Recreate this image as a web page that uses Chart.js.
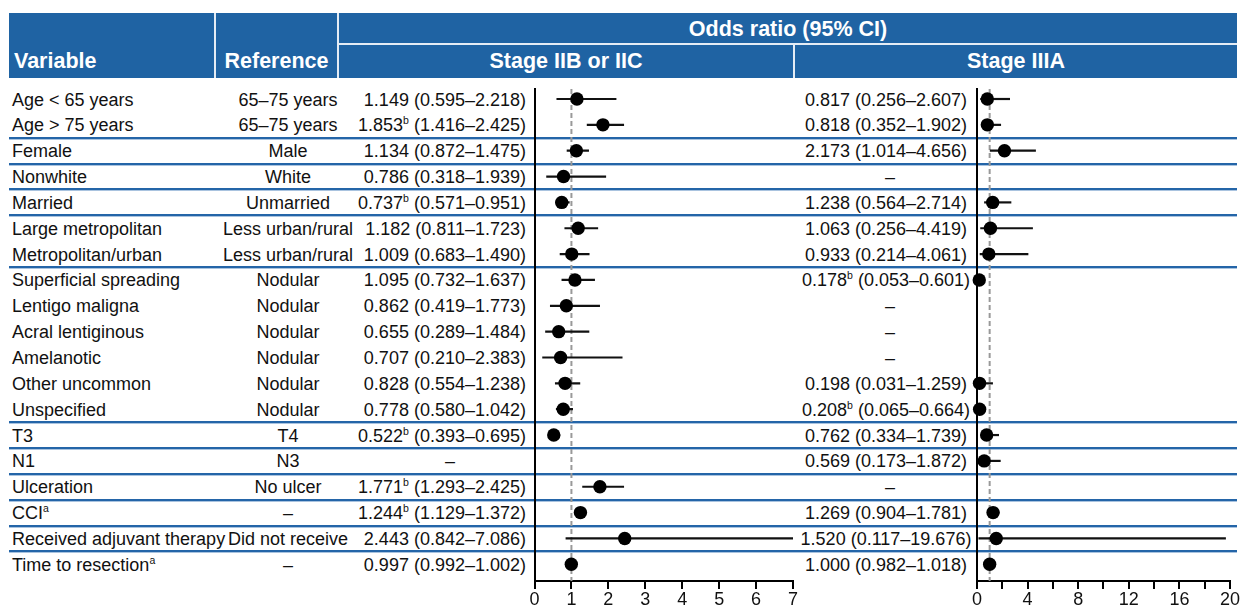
<!DOCTYPE html>
<html>
<head>
<meta charset="utf-8">
<script src="https://cdn.jsdelivr.net/npm/chart.js@4.4.1/dist/chart.umd.min.js"></script>
<style>
body { margin: 0; width: 1240px; height: 607px; background: #fff; position: relative; overflow: hidden;
       font-family: "Liberation Sans", Arial, sans-serif; color: #111; }
.abs { position: absolute; white-space: nowrap; }
#head { left: 9px; top: 13px; width: 1228px; height: 65px; background: #1f63a3; }
.h { color: #fff; font-weight: bold; font-size: 21.5px; line-height: 26px; height: 26px; }
.wl { background: #e4ecf5; }
.sep { left: 9px; width: 1228px; height: 2px; background: #2465a8; border-bottom: 1px solid #a9c3df; }
.cell { font-size: 18px; line-height: 22px; height: 22px; }
sup { font-size: 10.5px; line-height: 0; vertical-align: 7px; }
canvas { position: absolute; }
</style>
</head>
<body>
<div id="head" class="abs"></div>
<div class="abs wl" style="left:214px;top:13px;width:2px;height:65px"></div>
<div class="abs wl" style="left:337px;top:13px;width:2px;height:65px"></div>
<div class="abs wl" style="left:338px;top:43px;width:899px;height:2px"></div>
<div class="abs wl" style="left:793px;top:45px;width:2px;height:33px"></div>
<div class="abs h" style="left:14px;top:48px">Variable</div>
<div class="abs h" style="left:215px;top:48px;width:123px;text-align:center">Reference</div>
<div class="abs h" style="left:339px;top:16px;width:898px;text-align:center">Odds ratio (95% CI)</div>
<div class="abs h" style="left:339px;top:48px;width:454px;text-align:center">Stage IIB or IIC</div>
<div class="abs h" style="left:795px;top:48px;width:442px;text-align:center">Stage IIIA</div>
<div id="rows"></div>
<canvas id="plotIIB" width="300" height="527" style="left:514px;top:80px"></canvas>
<canvas id="plotIIIA" width="285" height="527" style="left:955px;top:80px"></canvas>

<script>
const variables = ["Age < 65 years", "Age > 75 years", "Female", "Nonwhite", "Married",
    "Large metropolitan", "Metropolitan/urban", "Superficial spreading", "Lentigo maligna",
    "Acral lentiginous", "Amelanotic", "Other uncommon", "Unspecified", "T3", "N1",
    "Ulceration", "CCI", "Received adjuvant therapy", "Time to resection"];
const variableNotes = ["", "", "", "", "", "", "", "", "", "", "", "", "", "", "", "", "a", "", "a"];
const references = ["65–75 years", "65–75 years", "Male", "White", "Unmarried",
    "Less urban/rural", "Less urban/rural", "Nodular", "Nodular", "Nodular", "Nodular",
    "Nodular", "Nodular", "T4", "N3", "No ulcer", "–", "Did not receive", "–"];

// Stage IIB or IIC
const orIIB = [1.149, 1.853, 1.134, 0.786, 0.737, 1.182, 1.009, 1.095, 0.862, 0.655, 0.707, 0.828, 0.778, 0.522, null, 1.771, 1.244, 2.443, 0.997];
const loIIB = [0.595, 1.416, 0.872, 0.318, 0.571, 0.811, 0.683, 0.732, 0.419, 0.289, 0.210, 0.554, 0.580, 0.393, null, 1.293, 1.129, 0.842, 0.992];
const hiIIB = [2.218, 2.425, 1.475, 1.939, 0.951, 1.723, 1.490, 1.637, 1.773, 1.484, 2.383, 1.238, 1.042, 0.695, null, 2.425, 1.372, 7.086, 1.002];
const sigIIB = [false, true, false, false, true, false, false, false, false, false, false, false, false, true, false, true, true, false, false];

// Stage IIIA
const orIIIA = [0.817, 0.818, 2.173, null, 1.238, 1.063, 0.933, 0.178, null, null, null, 0.198, 0.208, 0.762, 0.569, null, 1.269, 1.520, 1.000];
const loIIIA = [0.256, 0.352, 1.014, null, 0.564, 0.256, 0.214, 0.053, null, null, null, 0.031, 0.065, 0.334, 0.173, null, 0.904, 0.117, 0.982];
const hiIIIA = [2.607, 1.902, 4.656, null, 2.714, 4.419, 4.061, 0.601, null, null, null, 1.259, 0.664, 1.739, 1.872, null, 1.781, 19.676, 1.018];
const sigIIIA = [false, false, false, false, false, false, false, true, false, false, false, false, true, false, false, false, false, false, false];

const groupEnds = [1, 2, 3, 4, 6, 12, 13, 14, 15, 16, 17];
const ticksIIB = [0, 1, 2, 3, 4, 5, 6, 7];
const ticksIIIA = [0, 4, 8, 12, 16, 20];

const ROW0 = 99;
const ROW_H = 25.85;
const rowY = (i) => ROW0 + i * ROW_H;
const Y_MIN = (89 - ROW0) / ROW_H;
const Y_MAX = (581 - ROW0) / ROW_H;

const rowsEl = document.getElementById("rows");

function addCell(left, width, align, i, html) {
    const el = document.createElement("div");
    el.className = "abs cell";
    el.style.left = left + "px";
    el.style.width = width + "px";
    el.style.textAlign = align;
    el.style.top = (rowY(i) - 10.5) + "px";
    el.innerHTML = html;
    rowsEl.appendChild(el);
}

function orText(or, lo, hi, sig) {
    return or.toFixed(3) + (sig ? "<sup>b</sup>" : "") + " (" + lo.toFixed(3) + "–" + hi.toFixed(3) + ")";
}

groupEnds.forEach((i) => {
    const el = document.createElement("div");
    el.className = "abs sep";
    el.style.top = (rowY(i) + ROW_H / 2 - 1) + "px";
    rowsEl.appendChild(el);
});

variables.forEach((v, i) => {
    addCell(12, 230, "left", i, v + (variableNotes[i] ? "<sup>" + variableNotes[i] + "</sup>" : ""));
    addCell(188, 200, "center", i, references[i]);
    if (orIIB[i] === null) addCell(350, 200, "center", i, "–");
    else addCell(326, 200, "right", i, orText(orIIB[i], loIIB[i], hiIIB[i], sigIIB[i]));
    if (orIIIA[i] === null) addCell(790, 200, "center", i, "–");
    else addCell(786, 200, "center", i, orText(orIIIA[i], loIIIA[i], hiIIIA[i], sigIIIA[i]));
});

function makeForest(id, or, lo, hi, xMax, step, labels, padding) {
    const whiskers = [];
    const points = [];
    or.forEach((v, i) => {
        if (v === null) return;
        points.push({ x: v, y: i });
        whiskers.push({
            showLine: true,
            data: [{ x: lo[i], y: i }, { x: hi[i], y: i }],
            borderColor: "#111",
            borderWidth: 2.2,
            pointRadius: 0,
            order: 1,
        });
    });

    new Chart(document.getElementById(id), {
        type: "scatter",
        data: {
            datasets: [
                {
                    data: points,
                    pointRadius: 6.7,
                    pointHoverRadius: 6.7,
                    backgroundColor: "#000",
                    borderColor: "#000",
                    borderWidth: 0,
                    clip: false,
                    order: 0,
                },
                ...whiskers,
                {
                    showLine: true,
                    data: [{ x: 1, y: Y_MIN }, { x: 1, y: Y_MAX }],
                    borderColor: "#999",
                    borderWidth: 2,
                    borderDash: [5, 3],
                    pointRadius: 0,
                    order: 2,
                },
            ],
        },
        options: {
            responsive: false,
            animation: false,
            devicePixelRatio: 1,
            layout: { padding },
            plugins: { legend: { display: false }, tooltip: { enabled: false } },
            scales: {
                x: {
                    type: "linear",
                    min: 0,
                    max: xMax,
                    afterFit: (scale) => { scale.height = 26; },
                    ticks: {
                        stepSize: step,
                        autoSkip: false,
                        maxRotation: 0,
                        padding: 0,
                        color: "#111",
                        font: { family: "Liberation Sans, Arial, sans-serif", size: 18 },
                        callback: (v) => (labels.includes(v) ? String(v) : ""),
                    },
                    grid: { display: true, drawOnChartArea: false, drawTicks: true, tickLength: 8, color: "#000", lineWidth: 2 },
                    border: { display: true, color: "#000", width: 2 },
                },
                y: {
                    type: "linear",
                    min: Y_MIN,
                    max: Y_MAX,
                    reverse: true,
                    afterFit: (scale) => { scale.width = 0; },
                    ticks: { display: false },
                    grid: { display: false },
                    border: { display: true, color: "#000", width: 2 },
                },
            },
        },
    });
}

makeForest("plotIIB", orIIB, loIIB, hiIIB, 7, 1, ticksIIB, { left: 20.5, right: 21, top: 9, bottom: 0 });
makeForest("plotIIIA", orIIIA, loIIIA, hiIIIA, 20, 2, ticksIIIA, { left: 22, right: 9.5, top: 9, bottom: 0 });
</script>
</body>
</html>
